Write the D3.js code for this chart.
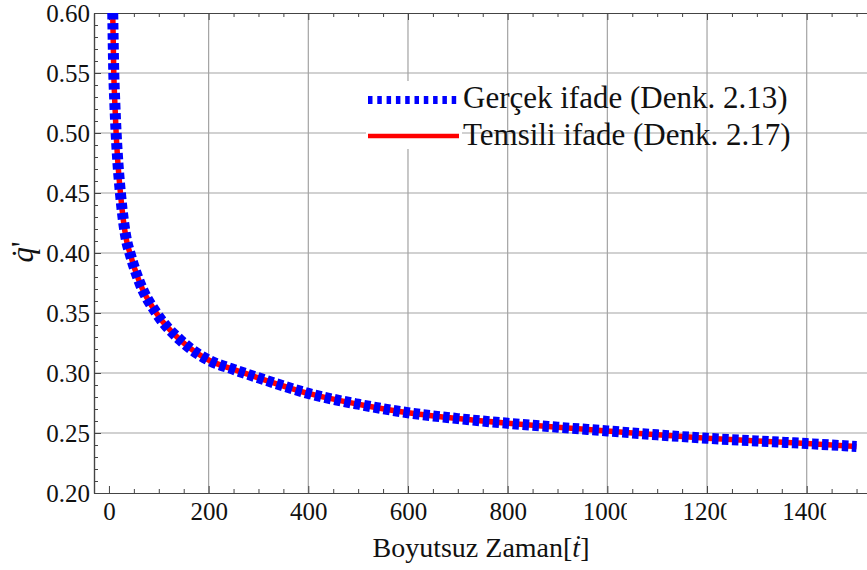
<!DOCTYPE html>
<html>
<head>
<meta charset="utf-8">
<script src="https://cdn.jsdelivr.net/npm/d3@7"></script>
<style>
  html, body { margin: 0; padding: 0; background: #fff; }
  svg { display: block; }
  text { font-family: "Liberation Serif", "Times New Roman", serif; fill: #111; }
</style>
</head>
<body>
<svg id="chart" width="867" height="570"></svg>
<script>
// ---- data ----
const tValues       = [7.6, 9.7, 11.8, 14.4, 18, 23, 35, 42, 62, 95, 143, 177, 200, 250, 300, 400, 500, 600, 700, 800, 900, 1000, 1100, 1200, 1300, 1400, 1500];
const gercekValues  = [0.600, 0.550, 0.525, 0.500, 0.475, 0.450, 0.411, 0.400, 0.375, 0.350, 0.3275, 0.3164, 0.3108, 0.3030, 0.2960, 0.2830, 0.2740, 0.2669, 0.2620, 0.2581, 0.2548, 0.2517, 0.2485, 0.2456, 0.2434, 0.2412, 0.2388];
const temsiliValues = [0.600, 0.550, 0.525, 0.500, 0.475, 0.450, 0.411, 0.400, 0.375, 0.350, 0.3275, 0.3164, 0.3108, 0.3030, 0.2960, 0.2830, 0.2740, 0.2669, 0.2620, 0.2581, 0.2548, 0.2517, 0.2485, 0.2456, 0.2434, 0.2412, 0.2388];
const xMajorTicks   = [0, 200, 400, 600, 800, 1000, 1200, 1400];
const xMinorTicks   = [50, 100, 150, 250, 300, 350, 450, 500, 550, 650, 700, 750, 850, 900, 950, 1050, 1100, 1150, 1250, 1300, 1350, 1450, 1500];
const yMajorTicks   = [0.20, 0.25, 0.30, 0.35, 0.40, 0.45, 0.50, 0.55, 0.60];
const yMinorTicks   = [0.21,0.22,0.23,0.24,0.26,0.27,0.28,0.29,0.31,0.32,0.33,0.34,0.36,0.37,0.38,0.39,0.41,0.42,0.43,0.44,0.46,0.47,0.48,0.49,0.51,0.52,0.53,0.54,0.56,0.57,0.58,0.59];
const seriesNames   = ["Gerçek ifade (Denk. 2.13)", "Temsili ifade (Denk. 2.17)"];

// ---- layout ----
const svg = d3.select("#chart");
const L = 94, T = 13, R = 870, B = 493;
const x = d3.scaleLinear().domain([-30, 1527]).range([L, R]);
const y = d3.scaleLinear().domain([0.20, 0.60]).range([B, T]);

const defs = svg.append("defs");
defs.append("clipPath").attr("id", "plotClip")
  .append("rect").attr("x", L).attr("y", T).attr("width", R - L).attr("height", B - T);
defs.append("clipPath").attr("id", "lblClip")
  .append("rect").attr("x", -40).attr("y", 0).attr("width", 59).attr("height", 40);

// grid
const grid = svg.append("g");
grid.selectAll("line.gx").data(xMajorTicks.filter(d => d > 0)).join("line")
  .attr("x1", d => x(d)).attr("x2", d => x(d)).attr("y1", T).attr("y2", B)
  .attr("stroke", "#a3a3a3").attr("stroke-width", 1.2);
grid.selectAll("line.gy").data(yMajorTicks.filter(d => d > 0.2 && d < 0.6)).join("line")
  .attr("x1", L).attr("x2", R).attr("y1", d => y(d)).attr("y2", d => y(d))
  .attr("stroke", "#a3a3a3").attr("stroke-width", 1.2);

// axes
function styleAxis(g) {
  g.attr("font-family", null).attr("font-size", null);
  g.select(".domain").attr("stroke", "#444").attr("stroke-width", 1.2);
  g.selectAll(".tick line").attr("stroke", "#444").attr("stroke-width", 1);
  g.selectAll("text").attr("font-family", "Liberation Serif").attr("font-size", 25).attr("fill", "#111");
}
const xAxis = svg.append("g").attr("transform", `translate(0,${B})`)
  .call(d3.axisBottom(x).tickValues(xMajorTicks).tickSize(-7).tickPadding(9).tickSizeOuter(0).tickFormat(d3.format("d")))
  .call(styleAxis);
xAxis.selectAll(".tick text").attr("clip-path", "url(#lblClip)");
svg.append("g").attr("transform", `translate(0,${B})`)
  .call(d3.axisBottom(x).tickValues(xMinorTicks).tickSize(-4).tickSizeOuter(0).tickFormat(""))
  .call(styleAxis);
svg.append("g").attr("transform", `translate(0,${T})`)
  .call(d3.axisTop(x).tickValues(xMajorTicks).tickSize(-7).tickSizeOuter(0).tickFormat(""))
  .call(styleAxis);
svg.append("g").attr("transform", `translate(0,${T})`)
  .call(d3.axisTop(x).tickValues(xMinorTicks).tickSize(-4).tickSizeOuter(0).tickFormat(""))
  .call(styleAxis);
svg.append("g").attr("transform", `translate(${L},0)`)
  .call(d3.axisLeft(y).tickValues(yMajorTicks).tickSize(-7).tickPadding(4).tickSizeOuter(0).tickFormat(d3.format(".2f")))
  .call(styleAxis);
svg.append("g").attr("transform", `translate(${L},0)`)
  .call(d3.axisLeft(y).tickValues(yMinorTicks).tickSize(-4).tickSizeOuter(0).tickFormat(""))
  .call(styleAxis);

// curves
const line = d3.line().x(d => x(d[0])).y(d => y(d[1])).curve(d3.curveMonotoneX);
const plot = svg.append("g").attr("clip-path", "url(#plotClip)");
plot.append("path").datum(tValues.map((t, i) => [t, temsiliValues[i]]))
  .attr("d", line).attr("fill", "none").attr("stroke", "#ff0000").attr("stroke-width", 5.5);
plot.append("path").datum(tValues.map((t, i) => [t, gercekValues[i]]))
  .attr("d", line).attr("fill", "none").attr("stroke", "#0000ff").attr("stroke-width", 11)
  .attr("stroke-dasharray", "6.5 3.5");

// legend
const lg = svg.append("g");
lg.append("rect").attr("x", 366).attr("y", 81).attr("width", 96).attr("height", 68).attr("fill", "#fff");
lg.append("line").attr("x1", 368).attr("x2", 459).attr("y1", 100).attr("y2", 100)
  .attr("stroke", "#0000ff").attr("stroke-width", 8).attr("stroke-dasharray", "4.5 4.8");
lg.append("line").attr("x1", 368).attr("x2", 459).attr("y1", 136).attr("y2", 136)
  .attr("stroke", "#ff0000").attr("stroke-width", 4.5);
lg.selectAll("text.leg").data(seriesNames).join("text").attr("class", "leg")
  .attr("x", 463).attr("y", (d, i) => 108 + i * 37)
  .attr("font-size", 31).attr("font-family", "Liberation Serif").text(d => d);

// axis titles
const xt = svg.append("text").attr("x", 481).attr("y", 557).attr("text-anchor", "middle")
  .attr("font-size", 28).attr("font-family", "Liberation Serif");
xt.append("tspan").text("Boyutsuz Zaman[");
xt.append("tspan").attr("font-style", "italic").text("t\u0307");
xt.append("tspan").text("]");

const yt = svg.append("text").attr("transform", "translate(33,252) rotate(-90)").attr("text-anchor", "middle")
  .attr("font-size", 31).attr("font-family", "Liberation Serif");
yt.append("tspan").attr("font-style", "italic").text("q\u0307");
yt.append("tspan").text("'");
</script>
</body>
</html>
